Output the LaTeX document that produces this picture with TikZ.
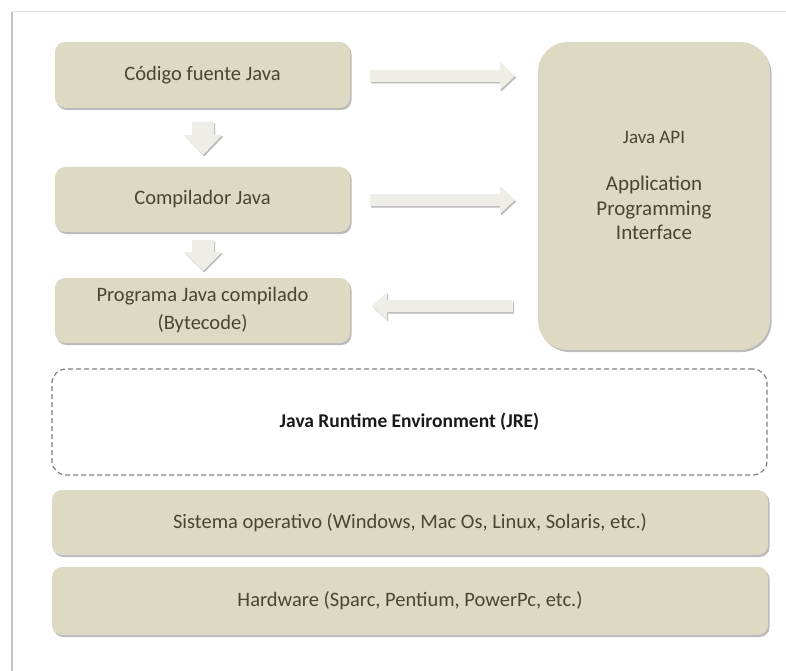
\documentclass[tikz,border=0pt]{standalone}
\usepackage{fontspec}
\setmainfont{Carlito}
\usetikzlibrary{shadows}
\definecolor{tan}{HTML}{DDD9C3}
\definecolor{txt}{HTML}{4A4530}
\definecolor{arr}{HTML}{EFEEE6}
\definecolor{frame}{HTML}{C4C4C4}
\tikzset{
  box/.style={fill=tan, rounded corners=10pt, draw=none,
    drop shadow={shadow xshift=1.5pt, shadow yshift=-2pt, fill=black!45, opacity=0.6},
    text=txt, font=\fontsize{20.5}{28}\selectfont, align=center},
  blockarrow/.style={fill=arr, draw=none,
    drop shadow={shadow xshift=1.2pt, shadow yshift=-1.5pt, fill=black!45, opacity=0.6}},
}
\begin{document}
\begin{tikzpicture}[x=1pt,y=-1pt]
\useasboundingbox (0,0) rectangle (786,671);
\fill[white] (0,0) rectangle (786,671);
% frame
\draw[frame, line width=2pt] (12,671) -- (12,12);
\draw[black!12, line width=1pt] (12,12) -- (786,12);
% left boxes
\node[box, minimum width=295pt, minimum height=66pt] (src) at (202.5,75) {Código fuente Java};
\node[box, minimum width=295pt, minimum height=65pt] (comp) at (202.5,199.5) {Compilador Java};
\node[box, minimum width=295pt, minimum height=65pt] (prog) at (202.5,310.5) {Programa Java compilado\\(Bytecode)};
% API box
\node[box, rounded corners=30pt, minimum width=232pt, minimum height=308pt] (api) at (654,196) {};
\node[text=txt, font=\fontsize{19}{22}\selectfont, align=center] (apit) at (654,137) {Java API};
\node[text=txt, font=\fontsize{21}{24.5}\selectfont, align=center] (apid) at (654,208) {Application\\Programming\\Interface};
% JRE
\node[draw=black!50, dash pattern=on 5pt off 3pt, line width=1.2pt, rounded corners=14pt,
  minimum width=715pt, minimum height=106pt, font=\fontsize{19.5}{22}\selectfont\bfseries, text=black!90] (jre) at (409.5,422) {Java Runtime Environment (JRE)};
% OS and hardware
\node[box, minimum width=716pt, minimum height=65pt] (os) at (410,522.5) {Sistema operativo (Windows, Mac Os, Linux, Solaris, etc.)};
\node[box, minimum width=716pt, minimum height=68pt] (hw) at (410,601) {Hardware (Sparc, Pentium, PowerPc, etc.)};
% down arrows
\fill[blockarrow] (192,122) -- (214,122) -- (214,135) -- (222,135) -- (203,155) -- (184,135) -- (192,135) -- cycle;
\fill[blockarrow] (192,240) -- (214,240) -- (214,252) -- (222,252) -- (203,271) -- (184,252) -- (192,252) -- cycle;
% right arrows
\fill[blockarrow] (370,70) -- (500,70) -- (500,62) -- (515,76) -- (500,90) -- (500,82) -- (370,82) -- cycle;
\fill[blockarrow] (370,194) -- (500,194) -- (500,186) -- (515,200) -- (500,214) -- (500,206) -- (370,206) -- cycle;
% left arrow
\fill[blockarrow] (513,300) -- (387,300) -- (387,292) -- (372,306) -- (387,320) -- (387,312) -- (513,312) -- cycle;
\end{tikzpicture}
\end{document}
